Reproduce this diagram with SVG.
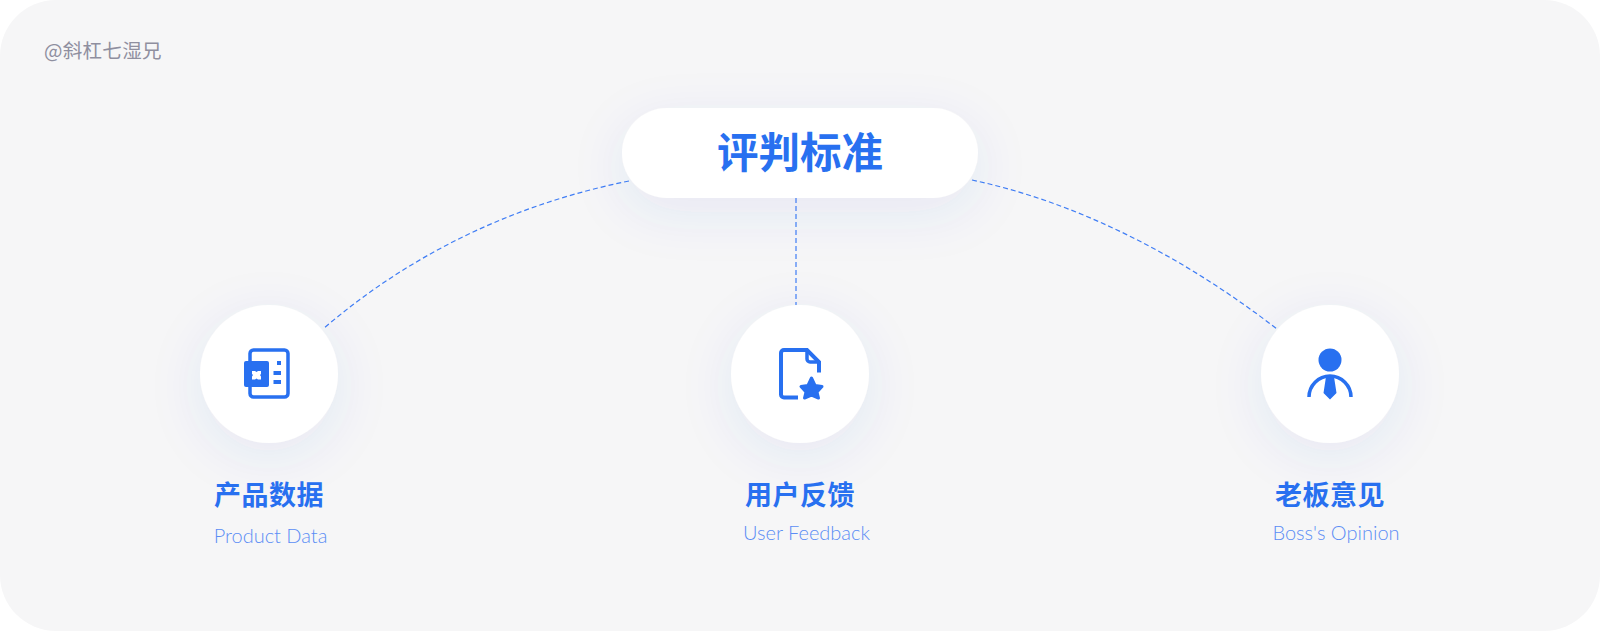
<svg xmlns="http://www.w3.org/2000/svg" width="1600" height="631" viewBox="0 0 1600 631">
<defs>
<filter id="sh" x="-80%" y="-80%" width="260%" height="280%"><feDropShadow dx="0" dy="12" stdDeviation="26" flood-color="#3a4bd0" flood-opacity="0.085"/></filter>
<filter id="shp" x="-40%" y="-100%" width="180%" height="340%"><feDropShadow dx="0" dy="14" stdDeviation="26" flood-color="#3a4bd0" flood-opacity="0.085"/></filter>
</defs>
<style>
.cjk{font-family:"Noto Sans CJK SC","Noto Sans",sans-serif}
.t{font-weight:700;font-size:27px;fill:#2870f0;text-anchor:middle;letter-spacing:.5px}
.s{font-family:"Lato","Noto Sans",sans-serif;font-weight:300;font-size:20px;fill:#5b8df5;text-anchor:middle}
.d{fill:none;stroke:#3f7df5;stroke-width:1.200;stroke-dasharray:5 3}
.b{fill:#2870f0}
.o{fill:none;stroke:#2870f0}
</style>
<rect width="1600" height="631" fill="#ffffff"/>
<rect id="bg" width="1600" height="631" rx="56" fill="#f6f6f7"/>
<text id="mark" class="cjk" x="44" y="58" font-size="19.500" fill="#8f8f9f" letter-spacing=".3">@斜杠七湿兄</text>
<g id="connectors">
<path class="d" d="M629 181C520 203 415 250 323 329"/>
<path class="d" d="M796 198V305"/>
<path class="d" d="M972 180C1080 203 1185 258 1277 329"/>
</g>
<g id="node-root">
<rect x="622" y="108" width="356" height="90" rx="45" fill="#fff" filter="url(#shp)"/>
<text class="cjk" x="800" y="168" font-size="41.500" font-weight="700" fill="#2870f0" text-anchor="middle">评判标准</text>
</g>
<g id="node-data">
<circle cx="269" cy="374" r="69" fill="#fff" filter="url(#sh)"/>
<rect class="o" stroke-width="3.500" x="250" y="350" width="38" height="47" rx="3.500"/>
<rect class="b" x="244" y="361" width="25" height="26" rx="2"/>
<path d="M252 371h3l1.500 1 1.500-1h3v3l-1 1 1 1.500v3h-3l-1.500-1-1.500 1h-3v-3l1-1.500-1-1z" fill="#fff"/>
<rect class="b" x="277" y="361" width="4" height="4"/>
<rect class="b" x="273.500" y="371" width="7.500" height="4"/>
<rect class="b" x="273.500" y="380" width="7.500" height="4"/>
<text class="cjk t" x="269" y="505">产品数据</text>
<text class="s" x="270.500" y="543">Product Data</text>
</g>
<g id="node-feedback">
<circle cx="800" cy="374" r="69" fill="#fff" filter="url(#sh)"/>
<path class="o" stroke-width="4" d="M798 397.500H784a3 3 0 0 1-3-3V353a3 3 0 0 1 3-3H807L819 362V372.500"/>
<path class="o" stroke-width="3.500" d="M807 350.500V359a3 3 0 0 0 3 3h9"/>
<path class="b" stroke="#2870f0" stroke-width="3" stroke-linejoin="round" d="M811.500 378L815 385.500L822 386.500L817 392L818.500 398L811.500 395L804.500 398L806 392L801 386.500L808 385.500Z"/>
<text class="cjk t" x="800" y="505">用户反馈</text>
<text class="s" x="806.500" y="540">User Feedback</text>
</g>
<g id="node-opinion">
<circle cx="1330" cy="374" r="69" fill="#fff" filter="url(#sh)"/>
<circle class="b" cx="1330" cy="360" r="11.500"/>
<path class="o" stroke-width="3.500" d="M1309 397a21 21 0 0 1 42 0"/>
<path class="b" d="M1326 376h8l.5 4 2 13L1330 399.500 1323.500 393l2-13z"/>
<text class="cjk t" x="1330" y="505">老板意见</text>
<text class="s" x="1336" y="540">Boss's Opinion</text>
</g>
</svg>
